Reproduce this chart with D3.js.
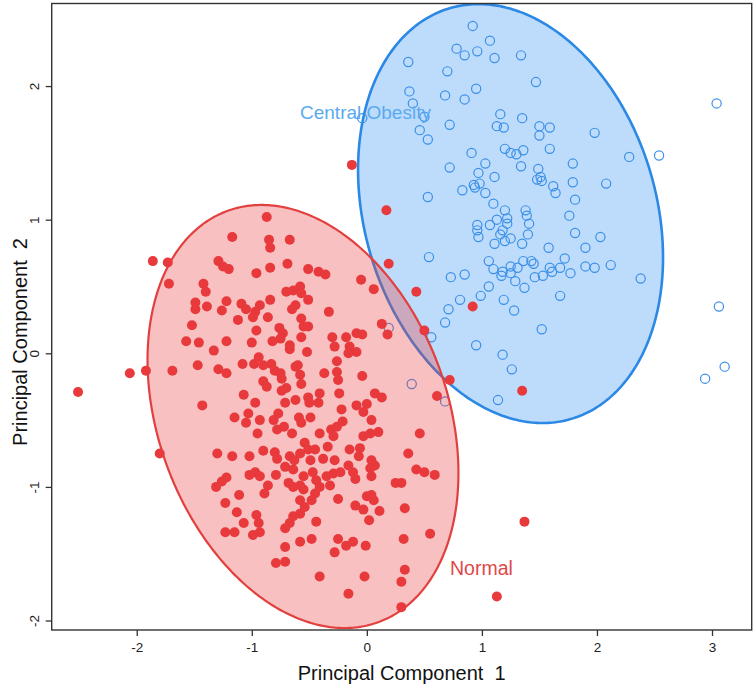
<!DOCTYPE html>
<html><head><meta charset="utf-8">
<script src="https://cdn.jsdelivr.net/npm/d3@7"></script>
<style>body{margin:0;background:#fff}svg{display:block}text{font-family:"Liberation Sans",Arial,sans-serif}</style>
</head><body><svg id="c" width="755" height="686"></svg>
<script>
const xTicks=[-2,-1,0,1,2,3];
const yTicks=[-2,-1,0,1,2];
const xDomain=[-2.739,3.345];
const yDomain=[-2.071,2.618];
const xTitle="Principal Component  1";
const yTitle="Principal Component  2";
const groupLabels=["Central Obesity","Normal"];
// ellipses in data units: center, semi-axes, angle (deg)
const obeseEllipse={cx:1.249,cy:1.046,a:1.633,b:1.244,angle:-64.4};
const normalEllipse={cx:-0.555,cy:-0.473,a:1.6825,b:1.2253,angle:-60.4};

const obesePoints=[
[0.92,2.45],[1.07,2.34],[0.78,2.28],[0.85,2.23],[0.96,2.26],[1.11,2.21],[1.34,2.23],[0.36,2.18],[0.70,2.11],[1.47,2.03],
[0.37,1.96],[0.40,1.87],[0.68,1.93],[0.85,1.90],[0.95,1.98],[0.50,1.77],[-0.04,1.76],[0.46,1.67],[0.53,1.60],[0.72,1.71],
[1.16,1.79],[1.13,1.70],[1.19,1.69],[1.35,1.76],[1.50,1.70],[1.59,1.69],[1.50,1.63],[1.98,1.65],[2.28,1.47],[0.91,1.50],
[1.20,1.53],[1.25,1.50],[1.30,1.49],[1.36,1.52],[1.59,1.53],[0.72,1.39],[1.03,1.42],[0.97,1.35],[1.11,1.32],[1.34,1.40],
[1.49,1.38],[1.48,1.30],[1.52,1.29],[1.51,1.32],[1.79,1.42],[1.79,1.28],[2.08,1.27],[1.62,1.25],[1.64,1.20],[0.83,1.22],
[0.93,1.26],[0.94,1.24],[0.98,1.27],[1.03,1.20],[0.53,1.17],[1.81,1.15],
[1.10,1.12],[1.20,1.07],[1.38,1.07],[1.39,1.03],[1.41,0.97],[1.22,1.01],[1.22,0.97],[1.13,1.00],[1.07,0.96],[0.96,0.96],
[0.96,0.92],[0.97,0.87],[1.18,0.92],[1.16,0.89],[1.25,0.86],[1.20,0.84],[1.11,0.82],[1.35,0.82],[1.40,0.89],[1.76,1.03],
[1.81,0.90],[2.03,0.87],[1.58,0.79],[1.90,0.79],[1.06,0.69],[1.10,0.63],[1.18,0.61],[1.17,0.58],[1.25,0.65],[1.31,0.64],
[1.36,0.69],[1.43,0.69],[1.45,0.67],[1.25,0.60],[1.29,0.54],[1.37,0.49],[1.46,0.57],[1.53,0.58],[1.59,0.64],[1.61,0.61],
[1.68,0.64],[1.72,0.71],[1.77,0.60],[1.90,0.65],[1.98,0.64],[2.12,0.66],[0.54,0.72],[0.73,0.57],[0.85,0.59],[0.99,0.43],
[1.06,0.50],[0.81,0.40],[0.71,0.33],[0.68,0.23],[1.19,0.40],[1.28,0.32],[1.68,0.43],[1.52,0.18],[0.95,0.06],[1.18,-0.01],
[1.26,-0.12],[1.14,-0.35],[0.39,-0.23],[0.19,0.19],[0.56,0.12],[0.68,-0.36],
[3.04,1.87],[3.06,0.35],[2.94,-0.19],[3.11,-0.10],[2.54,1.48],[2.38,0.56]
];

const normalPoints=[
[-0.87,1.02],[-1.17,0.87],[-0.85,0.85],[-0.84,0.79],[-0.67,0.85],[-1.86,0.69],[-1.73,0.68],[-1.29,0.69],[-1.25,0.65],[-1.20,0.63],
[-0.96,0.60],[-0.84,0.64],[-0.69,0.67],[-0.51,0.63],[-0.42,0.61],[-0.36,0.59],[-1.72,0.52],[-1.42,0.52],[-1.40,0.46],[-1.49,0.38],
[-1.49,0.33],[-1.39,0.35],[-1.26,0.32],[-1.22,0.39],[-1.09,0.37],[-1.05,0.33],[-0.93,0.36],[-0.97,0.31],[-0.99,0.27],[-0.84,0.40],
[-0.86,0.27],[-1.12,0.25],[-0.70,0.46],[-0.64,0.47],[-0.58,0.50],[-0.57,0.45],[-0.51,0.40],[-0.62,0.36],[-0.65,0.33],[-0.33,0.31],
[-1.52,0.21],[-0.96,0.17],[-0.76,0.19],[-0.73,0.15],[-0.75,0.11],[-0.57,0.26],[-0.55,0.20],[-0.51,0.20],[-0.57,0.12],[-0.82,0.09],
[-1.00,0.08],[-0.67,0.06],[-0.67,0.03],[-0.52,0.01],[-0.30,0.12],[-0.28,0.05],[-0.18,0.12],[-0.15,0.05],[-0.09,0.01],[-0.16,0.00],
[-0.09,0.15],[-1.57,0.09],[-1.46,0.08],[-1.33,0.02],[-1.22,0.09],[-2.06,-0.15],[-1.92,-0.13],[-1.69,-0.13],[-1.47,-0.09],[-1.29,-0.12],
[-1.22,-0.15],[-1.08,-0.08],[-0.98,-0.08],[-0.94,-0.03],[-0.90,-0.09],[-0.83,-0.08],[-0.80,-0.13],[-0.75,-0.15],[-0.74,-0.19],[-0.62,-0.10],
[-0.60,-0.09],[-0.58,-0.16],[-0.57,-0.23],[-0.37,-0.15],[-0.26,-0.06],[-0.26,-0.14],[-0.25,-0.20],[-0.90,-0.21],[-0.87,-0.25],[-1.07,-0.31],
[-0.74,-0.28],[-0.70,-0.26],[-0.62,-0.35],[-0.51,-0.33],[-0.41,-0.30],[-0.24,-0.30],
[0.17,1.07],[-0.13,1.41],[0.19,0.67],[-0.05,0.55],[0.06,0.48],[0.43,0.46],[0.92,0.35],[0.13,0.22],[0.18,0.14],[0.50,0.17],
[0.72,-0.20],[0.61,-0.32],[1.35,-0.28],[-0.04,0.14],[-0.04,-0.17],[0.07,-0.30],[0.13,-0.33],[-2.51,-0.29],[1.37,-1.26],[1.13,-1.82],
[-1.43,-0.39],[-1.15,-0.48],[-1.05,-0.52],[-1.03,-0.45],[-0.97,-0.37],[-0.93,-0.50],[-0.95,-0.60],[-0.81,-0.50],[-0.77,-0.45],[-0.78,-0.57],
[-0.71,-0.37],[-0.72,-0.55],[-0.65,-0.60],[-0.59,-0.48],[-0.57,-0.52],[-0.49,-0.48],[-0.50,-0.37],[-0.42,-0.37],[-0.41,-0.60],[-0.31,-0.57],
[-0.26,-0.55],[-0.22,-0.42],[-0.21,-0.51],[-0.29,-0.62],[-0.09,-0.39],[0.00,-0.38],[-0.03,-0.44],[0.04,-0.50],[-0.03,-0.62],[0.03,-0.60],
[0.10,-0.59],[0.46,-0.60],[-1.80,-0.75],[-1.30,-0.75],[-1.17,-0.77],[-1.02,-0.77],[-0.90,-0.73],[-0.80,-0.74],[-0.78,-0.79],[-0.67,-0.77],
[-0.63,-0.80],[-0.58,-0.75],[-0.54,-0.67],[-0.51,-0.72],[-0.49,-0.80],[-0.45,-0.72],[-0.38,-0.79],[-0.34,-0.70],[-0.28,-0.80],[-0.15,-0.72],
[-0.06,-0.71],[-0.07,-0.77],[0.04,-0.80],[0.07,-0.84],[0.03,-0.86],[0.04,-0.92],[0.36,-0.75],[0.43,-0.87],[0.50,-0.89],[0.59,-0.91],
[-1.31,-1.00],[-1.26,-0.96],[-1.22,-0.93],[-1.11,-1.06],[-1.02,-0.91],[-0.97,-0.89],[-0.93,-0.92],[-0.86,-0.99],[-0.89,-1.05],[-0.79,-0.91],
[-0.71,-0.85],[-0.64,-0.87],[-0.68,-0.97],[-0.64,-1.00],[-0.55,-0.92],[-0.58,-0.99],[-0.55,-1.02],[-0.47,-0.89],[-0.44,-0.95],[-0.41,-1.00],
[-0.45,-1.05],[-0.48,-1.10],[-0.35,-0.92],[-0.29,-0.90],[-0.23,-0.89],[-0.32,-0.99],[-0.25,-1.09],[-0.16,-0.84],[-0.12,-0.89],[-0.10,-0.94],
[0.25,-0.97],[0.30,-0.97],[0.00,-1.07],[0.04,-1.06],[0.06,-1.10],[-0.10,-1.14],[-0.03,-1.17],[0.11,-1.18],[0.33,-1.16],
[-0.58,-1.10],[-0.54,-1.15],[-0.58,-1.20],[-0.64,-1.22],[-0.67,-1.27],[-0.71,-1.31],[-0.44,-1.26],[-1.23,-1.12],[-1.13,-1.19],[-1.07,-1.27],
[-0.96,-1.21],[-0.94,-1.27],[-0.93,-1.34],[-0.99,-1.36],[-1.23,-1.34],[-1.15,-1.34],[0.02,-1.25],[0.32,-1.39],[0.55,-1.35],[-0.71,-1.45],
[-0.58,-1.41],[-0.48,-1.39],[-0.25,-1.39],[-0.18,-1.44],[-0.12,-1.41],[-0.01,-1.44],[-0.28,-1.49],[-0.79,-1.57],[-0.71,-1.56],[-0.41,-1.67],
[-0.02,-1.67],[0.33,-1.62],[0.30,-1.71],[-0.16,-1.80],[0.30,-1.90]
];

const m={left:51.7,right:751.7,top:3.5,bottom:630};
const svg=d3.select("#c");
const x=d3.scaleLinear().domain(xDomain).range([m.left,m.right]);
const y=d3.scaleLinear().domain(yDomain).range([m.bottom,m.top]);
const FONT='"Liberation Sans",Arial,sans-serif';

svg.append("defs").append("clipPath").attr("id","clip").append("rect")
  .attr("x",m.left).attr("y",m.top).attr("width",m.right-m.left).attr("height",m.bottom-m.top);

function ellipsePts(e){
  const pts=[];const phi=e.angle*Math.PI/180;
  for(let i=0;i<360;i++){const t=i*Math.PI/180;const u=e.a*Math.cos(t),v=e.b*Math.sin(t);
    pts.push([e.cx+u*Math.cos(phi)-v*Math.sin(phi),e.cy+u*Math.sin(phi)+v*Math.cos(phi)]);}
  return pts;
}
const line=d3.line().x(d=>x(d[0])).y(d=>y(d[1])).curve(d3.curveLinearClosed);
const g=svg.append("g").attr("clip-path","url(#clip)");

g.append("path").attr("d",line(ellipsePts(obeseEllipse)))
  .attr("fill","#bddcfb").attr("stroke","#2c88e5").attr("stroke-width",2.6);
g.selectAll("circle.ob").data(obesePoints).join("circle").attr("class","ob")
  .attr("cx",d=>x(d[0])).attr("cy",d=>y(d[1])).attr("r",4.6)
  .attr("fill","none").attr("stroke","#3b8fe8").attr("stroke-width",1.2);
g.append("path").attr("d",line(ellipsePts(normalEllipse)))
  .attr("fill","rgba(232,58,58,0.32)").attr("stroke","#e2403f").attr("stroke-width",2.2);
g.selectAll("circle.nm").data(normalPoints).join("circle").attr("class","nm")
  .attr("cx",d=>x(d[0])).attr("cy",d=>y(d[1])).attr("r",5)
  .attr("fill","#e8393c");

svg.append("rect").attr("x",m.left).attr("y",m.top).attr("width",m.right-m.left).attr("height",m.bottom-m.top)
  .attr("fill","none").attr("stroke","#333").attr("stroke-width",1.4);

const fmt=d=>String(d);
const xa=svg.append("g").attr("transform",`translate(0,${m.bottom})`)
  .call(d3.axisBottom(x).tickValues(xTicks).tickSize(6).tickSizeOuter(0).tickFormat(fmt));
xa.select(".domain").remove();
xa.selectAll("line").attr("stroke","#333").attr("stroke-width",1.3);
xa.selectAll("text").attr("y",12).attr("font-size","13.5px").attr("fill","#222").style("font-family",FONT);

const ya=svg.append("g").attr("transform",`translate(${m.left},0)`)
  .call(d3.axisLeft(y).tickValues(yTicks).tickSize(6).tickSizeOuter(0).tickFormat(fmt));
ya.select(".domain").remove();
ya.selectAll("line").attr("stroke","#333").attr("stroke-width",1.3);
ya.selectAll("text").attr("x",0).attr("dy",0).attr("text-anchor","middle")
  .attr("transform","translate(-13,0) rotate(-90)").attr("font-size","13.5px").attr("fill","#222").style("font-family",FONT);

svg.append("text").attr("x",(m.left+m.right)/2).attr("y",680).attr("text-anchor","middle")
  .style("white-space","pre").attr("font-size","20px").attr("fill","#111").text(xTitle);
svg.append("text").attr("transform","translate(20,342) rotate(-90)").attr("dy","0.35em").attr("text-anchor","middle")
  .style("white-space","pre").attr("font-size","20px").attr("fill","#111").text(yTitle);

svg.append("text").attr("x",300).attr("y",119).attr("font-size","19px").attr("fill","#5aaaf0").text(groupLabels[0]);
svg.append("text").attr("x",450).attr("y",575).attr("font-size","19.5px").attr("fill","#e04848").text(groupLabels[1]);
</script></body></html>
